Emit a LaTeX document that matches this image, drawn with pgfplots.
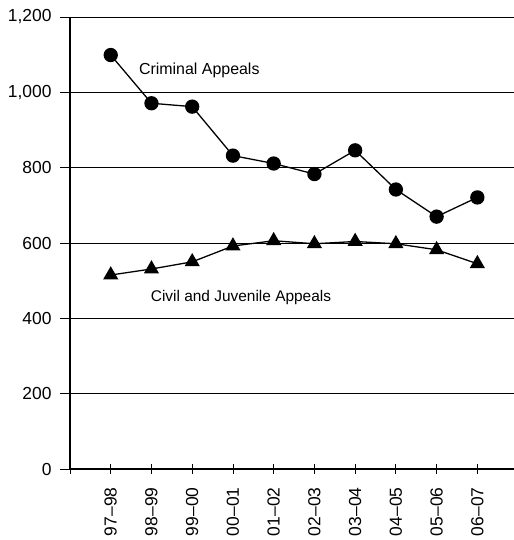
\documentclass[border=0pt]{standalone}
\usepackage{pgfplots}
\pgfplotsset{compat=1.18}
\usepackage{fontspec}
\setmainfont{Liberation Sans}
\begin{document}
\begin{tikzpicture}
\useasboundingbox (-70bp,-71bp) rectangle (444bp,469bp);
\begin{axis}[
  at={(0,0)}, anchor=south west,
  scale only axis, width=444bp, height=452bp,
  xmin=-1, xmax=9.9, ymin=0, ymax=1200,
  axis x line*=bottom, axis y line*=left,
  axis line style={line width=1.2pt, -},
  xtick={-1,0,1,2,3,4,5,6,7,8,9},
  xticklabels={,97--98,98--99,99--00,00--01,01--02,02--03,03--04,04--05,05--06,06--07},
  ytick={0,200,400,600,800,1000,1200},
  ymajorgrids, grid style={black, line width=0.8pt},
  major tick length=10bp,
  xtick align=center, ytick align=outside,
  tick style={black, line width=0.8pt},
  yticklabel style={font=\fontsize{17.5}{20}\selectfont, xshift=-5bp},
  xticklabel style={font=\fontsize{17.5}{20}\selectfont, rotate=90, anchor=east},
  xticklabel shift=10bp,
  /pgf/number format/1000 sep={,},
  /pgf/number format/assume math mode=true,
  clip=false,
]
\addplot[black, line width=1.3pt, mark=*, mark size=6.5bp, mark options={solid}] coordinates {
(0,1099) (1,971) (2,962) (3,832) (4,811) (5,783) (6,846) (7,742) (8,670) (9,721)};
\addplot[black, line width=1.3pt, mark=triangle*, mark size=7.5bp, mark options={solid}] coordinates {
(0,515) (1,531) (2,550) (3,592) (4,606) (5,598) (6,604) (7,598) (8,582) (9,545)};
\node[anchor=west, inner sep=0pt, font=\fontsize{16}{18}\selectfont] at (axis cs:0.69,1057) {Criminal Appeals};
\node[anchor=west, inner sep=0pt, font=\fontsize{15.5}{18}\selectfont] at (axis cs:0.98,454) {Civil and Juvenile Appeals};
\end{axis}
\end{tikzpicture}
\end{document}
